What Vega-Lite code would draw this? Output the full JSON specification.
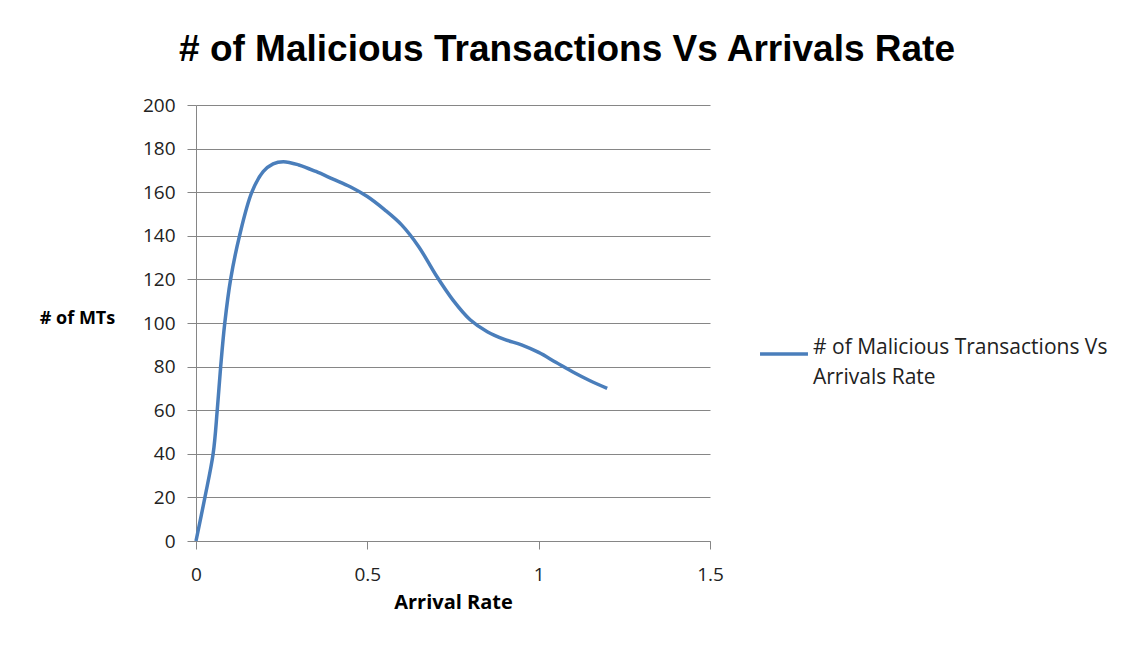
{
  "$schema": "https://vega.github.io/schema/vega-lite/v6.json",
  "autosize": {"type": "none"},
  "width": 514,
  "height": 436,
  "padding": {"left": 196, "top": 105, "right": 414, "bottom": 109},
  "background": "white",
  "title": {
    "text": "# of Malicious Transactions Vs Arrivals Rate",
    "font": "Liberation Sans",
    "fontSize": 37,
    "fontWeight": "bold",
    "color": "#000000",
    "anchor": "middle",
    "dx": 114,
    "offset": 27
  },
  "config": {
    "view": {"stroke": null},
    "style": {"guide-label": {"lineHeight": 30}},
    "axis": {
      "labelFont": "Open Sans",
      "labelFontSize": 19,
      "labelColor": "#222222",
      "gridColor": "#868686",
      "gridOpacity": 1,
      "domainColor": "#868686",
      "tickColor": "#868686",
      "titleFont": "Open Sans",
      "titleFontSize": 18,
      "titleFontWeight": "bold",
      "titleColor": "#000000"
    }
  },
  "data": {
    "values": [
      {"x": 0, "y": 0, "s": "# of Malicious Transactions Vs Arrivals Rate"},
      {"x": 0.026, "y": 20, "s": "# of Malicious Transactions Vs Arrivals Rate"},
      {"x": 0.05, "y": 40, "s": "# of Malicious Transactions Vs Arrivals Rate"},
      {"x": 0.062, "y": 60, "s": "# of Malicious Transactions Vs Arrivals Rate"},
      {"x": 0.072, "y": 80, "s": "# of Malicious Transactions Vs Arrivals Rate"},
      {"x": 0.084, "y": 100, "s": "# of Malicious Transactions Vs Arrivals Rate"},
      {"x": 0.101, "y": 120, "s": "# of Malicious Transactions Vs Arrivals Rate"},
      {"x": 0.127, "y": 140, "s": "# of Malicious Transactions Vs Arrivals Rate"},
      {"x": 0.163, "y": 160, "s": "# of Malicious Transactions Vs Arrivals Rate"},
      {"x": 0.196, "y": 169.4, "s": "# of Malicious Transactions Vs Arrivals Rate"},
      {"x": 0.225, "y": 173, "s": "# of Malicious Transactions Vs Arrivals Rate"},
      {"x": 0.255, "y": 174, "s": "# of Malicious Transactions Vs Arrivals Rate"},
      {"x": 0.3, "y": 172.5, "s": "# of Malicious Transactions Vs Arrivals Rate"},
      {"x": 0.35, "y": 169.5, "s": "# of Malicious Transactions Vs Arrivals Rate"},
      {"x": 0.4, "y": 166, "s": "# of Malicious Transactions Vs Arrivals Rate"},
      {"x": 0.45, "y": 162.5, "s": "# of Malicious Transactions Vs Arrivals Rate"},
      {"x": 0.5, "y": 158, "s": "# of Malicious Transactions Vs Arrivals Rate"},
      {"x": 0.55, "y": 152, "s": "# of Malicious Transactions Vs Arrivals Rate"},
      {"x": 0.6, "y": 145, "s": "# of Malicious Transactions Vs Arrivals Rate"},
      {"x": 0.65, "y": 135, "s": "# of Malicious Transactions Vs Arrivals Rate"},
      {"x": 0.7, "y": 122, "s": "# of Malicious Transactions Vs Arrivals Rate"},
      {"x": 0.75, "y": 110.5, "s": "# of Malicious Transactions Vs Arrivals Rate"},
      {"x": 0.8, "y": 101.5, "s": "# of Malicious Transactions Vs Arrivals Rate"},
      {"x": 0.85, "y": 96, "s": "# of Malicious Transactions Vs Arrivals Rate"},
      {"x": 0.9, "y": 92.5, "s": "# of Malicious Transactions Vs Arrivals Rate"},
      {"x": 0.95, "y": 90, "s": "# of Malicious Transactions Vs Arrivals Rate"},
      {"x": 1.0, "y": 86.5, "s": "# of Malicious Transactions Vs Arrivals Rate"},
      {"x": 1.05, "y": 82, "s": "# of Malicious Transactions Vs Arrivals Rate"},
      {"x": 1.1, "y": 77.5, "s": "# of Malicious Transactions Vs Arrivals Rate"},
      {"x": 1.15, "y": 73.5, "s": "# of Malicious Transactions Vs Arrivals Rate"},
      {"x": 1.2, "y": 70, "s": "# of Malicious Transactions Vs Arrivals Rate"}
    ]
  },
  "mark": {"type": "line", "interpolate": "catmull-rom", "strokeWidth": 3.5},
  "encoding": {
    "x": {
      "field": "x",
      "type": "quantitative",
      "scale": {"domain": [0, 1.5], "nice": false},
      "axis": {
        "values": [0, 0.5, 1, 1.5],
        "format": "~g",
        "labelFlush": false,
        "grid": false,
        "title": "Arrival Rate",
        "titleFontSize": 20,
        "tickSize": 8,
        "labelPadding": 16,
        "titleY": 51
      }
    },
    "y": {
      "field": "y",
      "type": "quantitative",
      "scale": {"domain": [0, 200], "nice": false},
      "axis": {
        "values": [0, 20, 40, 60, 80, 100, 120, 140, 160, 180, 200],
        "tickSize": 9,
        "labelPadding": 12,
        "title": "# of MTs",
        "titleAngle": 0,
        "titleAlign": "center",
        "titleBaseline": "middle",
        "titleX": -119,
        "titleY": 213
      }
    },
    "color": {
      "field": "s",
      "type": "nominal",
      "scale": {"range": ["#4A7EBB"]},
      "legend": {
        "title": null,
        "orient": "none",
        "legendX": 562,
        "legendY": 223,
        "symbolType": "stroke",
        "symbolSize": 2300,
        "symbolStrokeWidth": 3.5,
        "labelFont": "Open Sans",
        "labelFontSize": 21,
        "labelColor": "#222222",
        "labelLimit": 400,
        "labelExpr": "['# of Malicious Transactions Vs', 'Arrivals Rate']",
        "labelBaseline": "alphabetic",
        "labelOffset": 3
      }
    }
  }
}
